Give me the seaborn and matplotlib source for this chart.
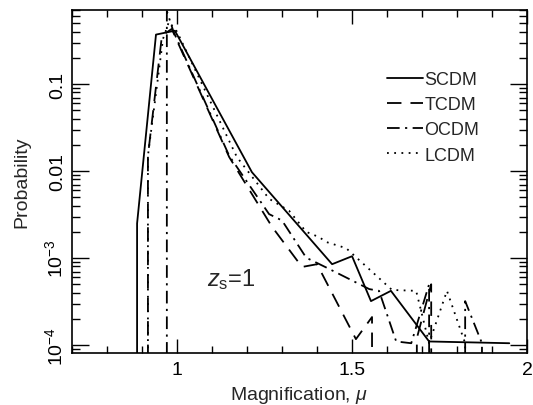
import numpy as np
import pandas as pd
import seaborn as sns
import matplotlib
matplotlib.use("Agg")
from matplotlib import pyplot as plt
from matplotlib.ticker import LogLocator, FixedLocator, MultipleLocator

# 数据（从图上读取的值，0 表示该 bin 为空，在对数轴上被截掉）
scdm_x = [0.886, 0.886, 0.94, 0.994, 1.214, 1.443, 1.5, 1.554, 1.611, 1.72, 1.949]
scdm_y = [0, 2.5e-3, 0.37, 0.41, 0.0097, 8.5e-4, 1.05e-3, 3.2e-4, 4.2e-4, 1.1e-4, 1.05e-4]

tcdm_x = [0.917, 0.917, 0.957, 0.985, 1.149, 1.271, 1.357, 1.40, 1.511, 1.557, 1.60, 1.685, 1.726, 1.78]
tcdm_y = [0, 0.015, 0.36, 0.43, 0.0145, 0.0023, 7.9e-4, 8.5e-4, 1.17e-4, 2.1e-4, 0, 1.2e-4, 5.0e-4, 0]

ocdm_x = [0.971, 0.971, 0.99, 1.149, 1.263, 1.30, 1.369, 1.426, 1.549, 1.577, 1.626, 1.669, 1.72, 1.77, 1.823, 1.871, 1.92]
ocdm_y = [0, 0.69, 0.40, 0.0150, 0.0032, 0.0027, 1.01e-3, 7.8e-4, 4.4e-4, 4.2e-4, 1.1e-4, 1.05e-4, 5.0e-4, 0, 3.2e-4, 1.05e-4, 0]

lcdm_x = [0.917, 0.917, 0.96, 0.977, 1.0, 1.171, 1.263, 1.32, 1.369, 1.406, 1.426, 1.483, 1.614, 1.683, 1.72, 1.771, 1.823, 1.87]
lcdm_y = [0, 0.015, 0.33, 0.52, 0.40, 0.0145, 0.0048, 0.0035, 0.0020, 1.74e-3, 1.53e-3, 1.3e-3, 4.3e-4, 4.2e-4, 1.05e-4, 4.2e-4, 1.05e-4, 0]

models = ["SCDM", "TCDM", "OCDM", "LCDM"]
xs = [scdm_x, tcdm_x, ocdm_x, lcdm_x]
ys = [scdm_y, tcdm_y, ocdm_y, lcdm_y]
styles = ["-", (0, (8, 5)), (0, (7, 3, 1.2, 3)), (0, (1, 3))]

ytick_vals = [1e-4, 1e-3, 1e-2, 1e-1]
ytick_labels = ["$10^{-4}$", "$10^{-3}$", "0.01", "0.1"]
xtick_vals = [1, 1.5, 2]
xtick_labels = ["1", "1.5", "2"]

sns.set_style("ticks")
plt.rcParams['font.family'] = ['Liberation Sans', 'DejaVu Sans']
plt.rcParams['mathtext.fontset'] = 'custom'
plt.rcParams['mathtext.rm'] = 'Liberation Sans'
plt.rcParams['mathtext.it'] = 'Liberation Sans:italic'

fig = plt.figure(figsize=(5.33, 4.06), dpi=100)
ax = fig.add_axes([0.135, 0.128, 0.854, 0.845])

for name, x, y, ls in zip(models, xs, ys, styles):
    df = pd.DataFrame({"mu": x, "p": y})
    sns.lineplot(data=df, x="mu", y="p", ax=ax, sort=False, estimator=None,
                 color="black", linewidth=1.3, linestyle=ls, label=name)

ax.set_yscale("log")
ax.set_xlim(0.7, 2.0)
ax.set_ylim(8.1e-5, 0.71)

ax.xaxis.set_major_locator(FixedLocator(xtick_vals))
ax.set_xticklabels(xtick_labels)
ax.xaxis.set_minor_locator(MultipleLocator(0.1))
ax.yaxis.set_major_locator(FixedLocator(ytick_vals))
ax.set_yticklabels(ytick_labels)
ax.yaxis.set_minor_locator(LogLocator(base=10, subs=np.arange(2, 10)))

ax.tick_params(which="both", direction="in", top=True, right=True, colors="black",
               labelsize=14, width=1.0)
ax.tick_params(axis="x", which="major", length=10, pad=6)
ax.tick_params(axis="x", which="minor", length=5)
ax.tick_params(axis="y", which="major", length=12, pad=4)
ax.tick_params(axis="y", which="minor", length=6)
for lab in ax.get_yticklabels():
    lab.set_rotation(90)
    lab.set_va("center")

for s in ax.spines.values():
    s.set_linewidth(1.2)
    s.set_color("black")

ax.set_xlabel("Magnification, $\\mu$", fontsize=14, labelpad=4)
ax.set_ylabel("Probability", fontsize=14, labelpad=10)

ax.text(0.297, 0.216, "$z_\\mathrm{s}$=1", transform=ax.transAxes,
        fontsize=17, va="center", ha="left")

ax.legend(loc="upper right", bbox_to_anchor=(0.915, 0.848), frameon=False,
          fontsize=13, handlelength=2.0, handletextpad=0.1, labelspacing=0.45,
          borderpad=0)

fig.savefig("out.png", dpi=100)
